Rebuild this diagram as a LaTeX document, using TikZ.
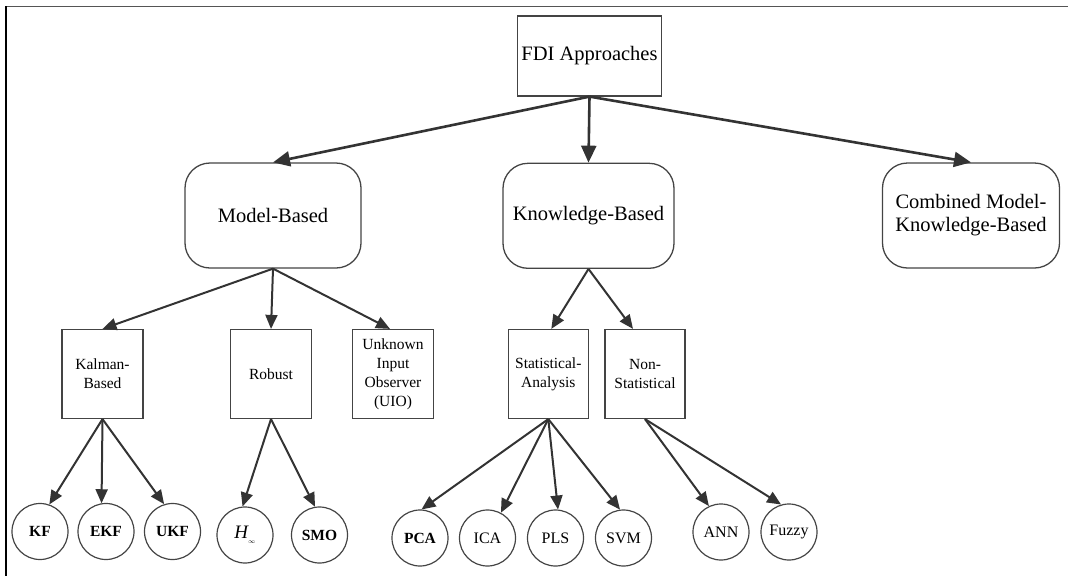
\documentclass[tikz,border=0pt]{standalone}
\usepackage{fontspec}
\setmainfont{Liberation Serif}
\usetikzlibrary{arrows.meta}
\definecolor{ln}{HTML}{333333}
\definecolor{bd}{HTML}{444444}
\definecolor{frm}{HTML}{555555}
\begin{document}
\begin{tikzpicture}[x=1pt,y=-1pt,
  topbox/.style={draw=bd,line width=1.2pt,minimum width=144pt,minimum height=80pt,inner sep=0pt,font=\fontsize{20.5}{23}\selectfont},
  rbox/.style={draw=bd,line width=1.3pt,rounded corners=25pt,minimum width=176pt,minimum height=105pt,inner sep=0pt,align=center,font=\fontsize{20.5}{23}\selectfont},
  sbox/.style={draw=bd,line width=1.2pt,minimum width=81pt,minimum height=89pt,inner sep=0pt,align=center,font=\fontsize{15.5}{19}\selectfont},
  leaf/.style={draw=bd,line width=1.2pt,circle,minimum size=56pt,inner sep=0pt,font=\fontsize{16}{18}\selectfont},
  bleaf/.style={leaf,font=\fontsize{15.5}{18}\selectfont\bfseries},
  bigarr/.style={draw=ln,line width=2.6pt,-{Triangle[length=17pt,width=15pt]}},
  arr/.style={draw=ln,line width=2pt,-{Triangle[length=14pt,width=12pt]}}]
\useasboundingbox (0,0) rectangle (1068,576);
% frame
\draw[frm,line width=1.8pt] (1068,6.5) -- (5.5,6.5);
\draw[black,line width=1.5pt] (6,6) -- (6,576);
% level 1
\node[topbox] (fdi) at (589.5,56) {FDI Approaches};
% level 2
\node[rbox] (mb) at (273,215.5) {Model-Based};
\node[rbox,minimum width=171pt] (kb) at (588.5,215.8) {Knowledge-Based};
\node[rbox,minimum width=177pt] (cb) at (971,215.5) {Combined Model-\\Knowledge-Based};
% level 3
\node[sbox] (kal) at (102.5,374) {Kalman-\\Based};
\node[sbox] (rob) at (271,374) {Robust};
\node[sbox] (uio) at (393,374) {Unknown\\Input\\Observer\\(UIO)};
\node[sbox,minimum width=80pt] (stat) at (548.3,374) {Statistical-\\Analysis};
\node[sbox,minimum width=80pt] (nstat) at (645,374) {Non-\\Statistical};
% leaves
\node[bleaf] (kf) at (40,531.5) {KF};
\node[bleaf] (ekf) at (106,531.5) {EKF};
\node[bleaf] (ukf) at (172.5,531.5) {UKF};
\node[leaf] (hinf) at (245,535) {\fontsize{19}{20}\selectfont\itshape H\raisebox{-5pt}{\fontsize{6}{6}\selectfont$\infty$}};
\node[bleaf] (smo) at (319.5,535) {SMO};
\node[bleaf] (pca) at (420,538) {PCA};
\node[leaf] (ica) at (487.5,538) {ICA};
\node[leaf] (pls) at (555.5,538) {PLS};
\node[leaf] (svm) at (623.5,538) {SVM};
\node[leaf] (ann) at (721,532) {ANN};
\node[leaf] (fuzzy) at (789,532) {Fuzzy};
% connectors level 1 -> 2
\draw[bigarr] (fdi.south) -- (mb.north);
\draw[bigarr] (fdi.south) -- (kb.north);
\draw[bigarr] (fdi.south) -- (cb.north);
% level 2 -> 3
\draw[arr] (mb.south) -- (kal.north);
\draw[arr] (mb.south) -- (rob.north);
\draw[arr] (mb.south) -- ([xshift=-3pt]uio.north);
\draw[arr] (kb.south) -- ([xshift=3pt]stat.north);
\draw[arr] (kb.south) -- ([xshift=-12pt]nstat.north);
% level 3 -> leaves
\draw[arr] (kal.south) -- (kf.71);
\draw[arr] (kal.south) -- (ekf.99);
\draw[arr] (kal.south) -- (ukf.107);
\draw[arr] (rob.south) -- (hinf.95);
\draw[arr] (rob.south) -- (smo.99);
\draw[arr] (stat.south) -- (pca.87);
\draw[arr] (stat.south) -- (ica.62);
\draw[arr] (stat.south) -- (pls.85);
\draw[arr] (stat.south) -- (svm.97);
\draw[arr] (nstat.south) -- (ann.115);
\draw[arr] (nstat.south) -- (fuzzy.106);
\end{tikzpicture}
\end{document}
